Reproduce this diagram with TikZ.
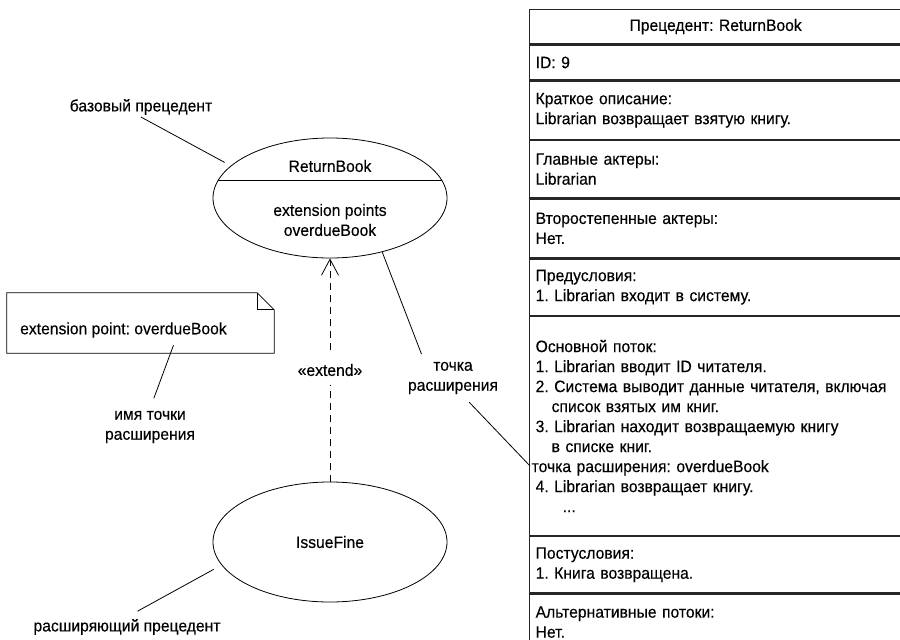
\documentclass[tikz,border=0pt]{standalone}
\usepackage{fontspec}
\setmainfont{Liberation Sans}[FakeStretch=0.95, FakeBold=0.3]
\usepackage{tikz}
\usetikzlibrary{shapes.geometric, arrows.meta, positioning, calc}
\newcommand{\fs}{\fontsize{16.5}{20}\selectfont\frenchspacing}
\tikzstyle{usecase} = [ellipse, draw, line width=0.8pt, minimum width=234pt, minimum height=120pt, inner sep=0pt, font=\fs]
\tikzstyle{lbl} = [font=\fs, align=center, inner sep=2pt]
\tikzstyle{note} = [rectangle, minimum width=267pt, minimum height=60pt, inner sep=0pt]
\tikzstyle{row} = [rectangle, draw=black!85, line width=1.3pt, text width=360pt, inner xsep=6pt, inner ysep=0pt, align=left, font=\fs]
\tikzstyle{pointer} = [line width=0.8pt]
\tikzstyle{extend} = [dash pattern=on 7pt off 5pt, line width=0.8pt, -{Straight Barb[length=16pt, width=17pt]}]

\begin{document}
\begin{tikzpicture}[x=1pt, y=-1pt]
  \useasboundingbox (0,0) rectangle (900,640);

  \node[usecase] (rb) at (330,198) {};
  \node[lbl] (rbname) at (330,166) {ReturnBook};
  \node[lbl] (rbext) at (330,220) {extension points\\overdueBook};
  \draw[pointer] (rb.171) -- (rb.9);
  \node[usecase] (if) at (330,542) {IssueFine};

  \node[lbl] (base) at (141,107) {базовый прецедент};
  \node[lbl] (ext) at (453,378) {точка\\расширения};
  \node[lbl] (iname) at (150,427) {имя точки\\расширения};
  \node[lbl] (extending) at (127,627) {расширяющий прецедент};

  \node[note] (note) at (140.5,323) {};
  \node[lbl, anchor=west] (notetxt) at (18,330) {extension point: overdueBook};
  \draw[pointer] (note.north west) -- ($(note.north east)+(-17,0)$) -- ($(note.north east)+(0,17)$) -- (note.south east) -- (note.south west) -- cycle;
  \draw[pointer] ($(note.north east)+(-17,0)$) |- ($(note.north east)+(0,17)$);

  \node[row, minimum height=34pt, anchor=north west, align=center] (r0) at (529,9) {Прецедент: ReturnBook};
  \node[row, minimum height=35pt, below right=0pt and 0pt of r0.south west] (r1) {ID: 9};
  \node[row, minimum height=58pt, below right=0pt and 0pt of r1.south west] (r2) {Краткое описание:\\Librarian возвращает взятую книгу.};
  \node[row, minimum height=57pt, below right=0pt and 0pt of r2.south west] (r3) {Главные актеры:\\Librarian};
  \node[row, minimum height=59pt, below right=0pt and 0pt of r3.south west] (r4) {Второстепенные актеры:\\Нет.};
  \node[row, minimum height=56pt, below right=0pt and 0pt of r4.south west] (r5) {Предусловия:\\1. Librarian входит в систему.};
  \node[row, minimum height=219pt, below right=0pt and 0pt of r5.south west] (r6) {Основной поток:\\1. Librarian вводит ID читателя.\\2. Система выводит данные читателя, включая\\\hspace*{16pt}список взятых им книг.\\3. Librarian находит возвращаемую книгу\\\hspace*{16pt}в списке книг.\\\hspace*{-4pt}точка расширения: overdueBook\\4. Librarian возвращает книгу.\\\hspace*{27pt}...};
  \node[row, minimum height=56pt, below right=0pt and 0pt of r6.south west] (r7) {Постусловия:\\1. Книга возвращена.};
  \node[row, minimum height=56pt, below right=0pt and 0pt of r7.south west] (r8) {Альтернативные потоки:\\Нет.};
  \coordinate (xpt) at ($(r6.west)+(1,40)$);

  \draw[extend] (if) -- node[lbl, fill=white, inner ysep=9pt] (extlbl) {«extend»} (rb);
  \draw[pointer, shorten >=7pt] (base.south) -- (rb.162);
  \draw[pointer, shorten >=6pt] (rb.-46) -- (ext.148);
  \draw[pointer, shorten <=8pt] (ext.-60) -- (xpt);
  \draw[pointer, shorten >=11pt] ($(note.south)+(33,-8)$) -- (iname.north);
  \draw[pointer, shorten <=9pt, shorten >=12pt] (if.192) -- (extending.north);
\end{tikzpicture}
\end{document}
